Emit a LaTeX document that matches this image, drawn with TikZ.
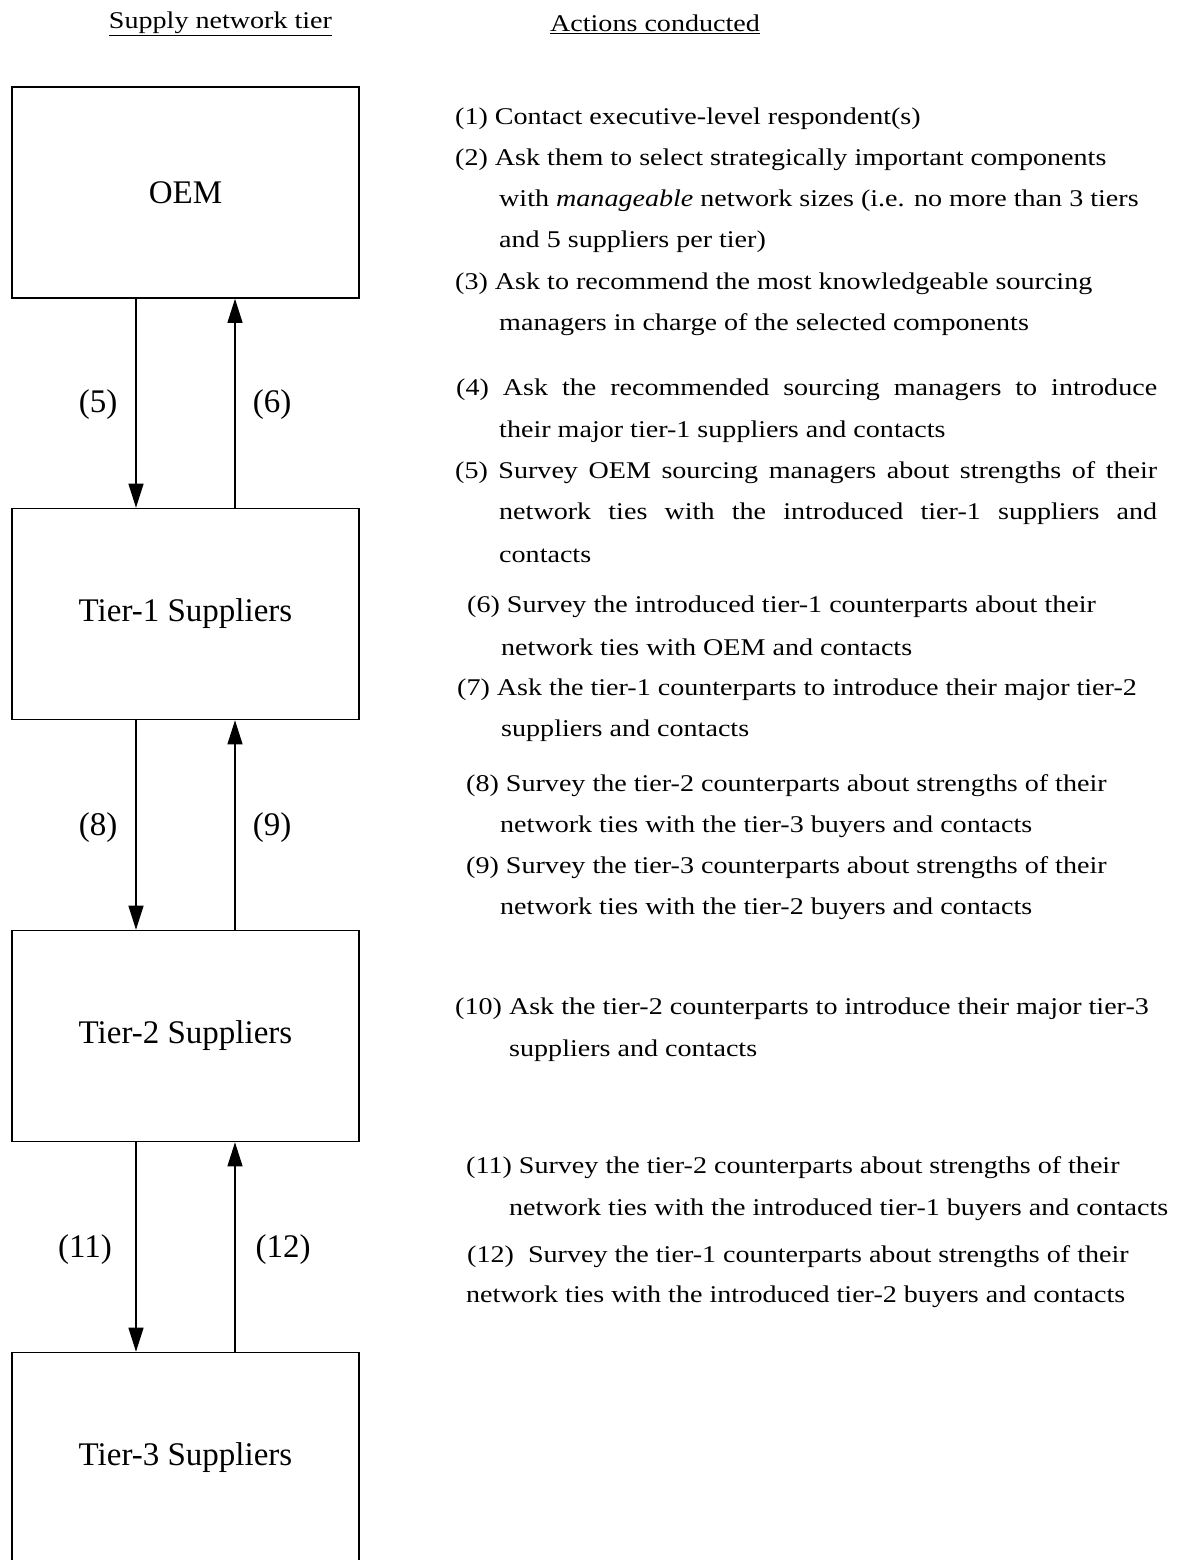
\documentclass[tikz,border=0pt]{standalone}
\usepackage{fontspec}
\setmainfont{Liberation Serif}
\newfontfamily\actfont[FakeStretch=1.17]{Liberation Serif}
\usetikzlibrary{arrows.meta}
\begin{document}
\begin{tikzpicture}[x=1pt,y=-1pt,
  tierbox/.style={draw,line width=1.6pt,minimum width=347pt,minimum height=211pt,inner sep=0pt,font=\fontsize{33}{36}\selectfont},
  conn/.style={line width=1.2pt,-{Triangle[length=24pt,width=15pt]}},
  lbl/.style={font=\fontsize{33}{36}\selectfont,inner sep=0pt},
  act/.style={anchor=west,inner sep=0pt,yshift=-2.5pt,font=\actfont\fontsize{24}{28}\selectfont},
  hdr/.style={inner sep=0pt,yshift=-2pt,font=\actfont\fontsize{24}{28}\selectfont}]
\useasboundingbox (0,0) rectangle (1180,1560);
\fill[white] (0,0) rectangle (1180,1560);

\node[hdr] (h1) at (220.5,22) {\underline{Supply network tier}};
\node[hdr] (h2) at (655,22) {\underline{Actions conducted}};

\node[tierbox] (oem) at (185.5,192.5) {OEM};
\node[tierbox] (t1) at (185.5,614) {Tier-1 Suppliers};
\node[tierbox] (t2) at (185.5,1036) {Tier-2 Suppliers};
\node[tierbox] (t3) at (185.5,1458) {Tier-3 Suppliers};

\coordinate (xd) at (136,0);
\coordinate (xu) at (235,0);
\draw[conn] (oem.south -| xd) -- (t1.north -| xd);
\draw[conn] (t1.north -| xu) -- (oem.south -| xu);
\draw[conn] (t1.south -| xd) -- (t2.north -| xd);
\draw[conn] (t2.north -| xu) -- (t1.south -| xu);
\draw[conn] (t2.south -| xd) -- (t3.north -| xd);
\draw[conn] (t3.north -| xu) -- (t2.south -| xu);

\node[lbl] (l5) at (98,405) {(5)};
\node[lbl] (l6) at (272,405) {(6)};
\node[lbl] (l8) at (98,828) {(8)};
\node[lbl] (l9) at (272,828) {(9)};
\node[lbl] (l11) at (85,1250) {(11)};
\node[lbl] (l12) at (283,1250) {(12)};

\node[act] (a1) at (455,116) {(1) Contact executive-level respondent(s)};
\node[act] (a2a) at (455,157) {(2) Ask them to select strategically important components};
\node[act] (a2b) at (499,198) {with \textit{manageable} network sizes (i.e. no more than 3 tiers};
\node[act] (a2c) at (499,239) {and 5 suppliers per tier)};
\node[act] (a3a) at (455,281) {(3) Ask to recommend the most knowledgeable sourcing};
\node[act] (a3b) at (499,322) {managers in charge of the selected components};
\node[act] (a4a) at (456,387) {\makebox[701pt][s]{(4) Ask the recommended sourcing managers to introduce}};
\node[act] (a4b) at (499,429) {their major tier-1 suppliers and contacts};
\node[act] (a5a) at (455,470) {\makebox[702pt][s]{(5) Survey OEM sourcing managers about strengths of their}};
\node[act] (a5b) at (499,511) {\makebox[658pt][s]{network ties with the introduced tier-1 suppliers and}};
\node[act] (a5c) at (499,553) {contacts};
\node[act] (a6a) at (467,604) {(6) Survey the introduced tier-1 counterparts about their};
\node[act] (a6b) at (501,645) {network ties with OEM and contacts};
\node[act] (a7a) at (457,687) {(7) Ask the tier-1 counterparts to introduce their major tier-2};
\node[act] (a7b) at (501,728) {suppliers and contacts};
\node[act] (a8a) at (466,783) {(8) Survey the tier-2 counterparts about strengths of their};
\node[act] (a8b) at (500,824) {network ties with the tier-3 buyers and contacts};
\node[act] (a9a) at (466,865) {(9) Survey the tier-3 counterparts about strengths of their};
\node[act] (a9b) at (500,906) {network ties with the tier-2 buyers and contacts};
\node[act] (a10a) at (455,1006) {(10) Ask the tier-2 counterparts to introduce their major tier-3};
\node[act] (a10b) at (509,1048) {suppliers and contacts};
\node[act] (a11a) at (466,1165) {(11) Survey the tier-2 counterparts about strengths of their};
\node[act] (a11b) at (509,1207) {network ties with the introduced tier-1 buyers and contacts};
\node[act] (a12a) at (467,1254) {(12)\ \ Survey the tier-1 counterparts about strengths of their};
\node[act] (a12b) at (466,1294) {network ties with the introduced tier-2 buyers and contacts};
\end{tikzpicture}
\end{document}
